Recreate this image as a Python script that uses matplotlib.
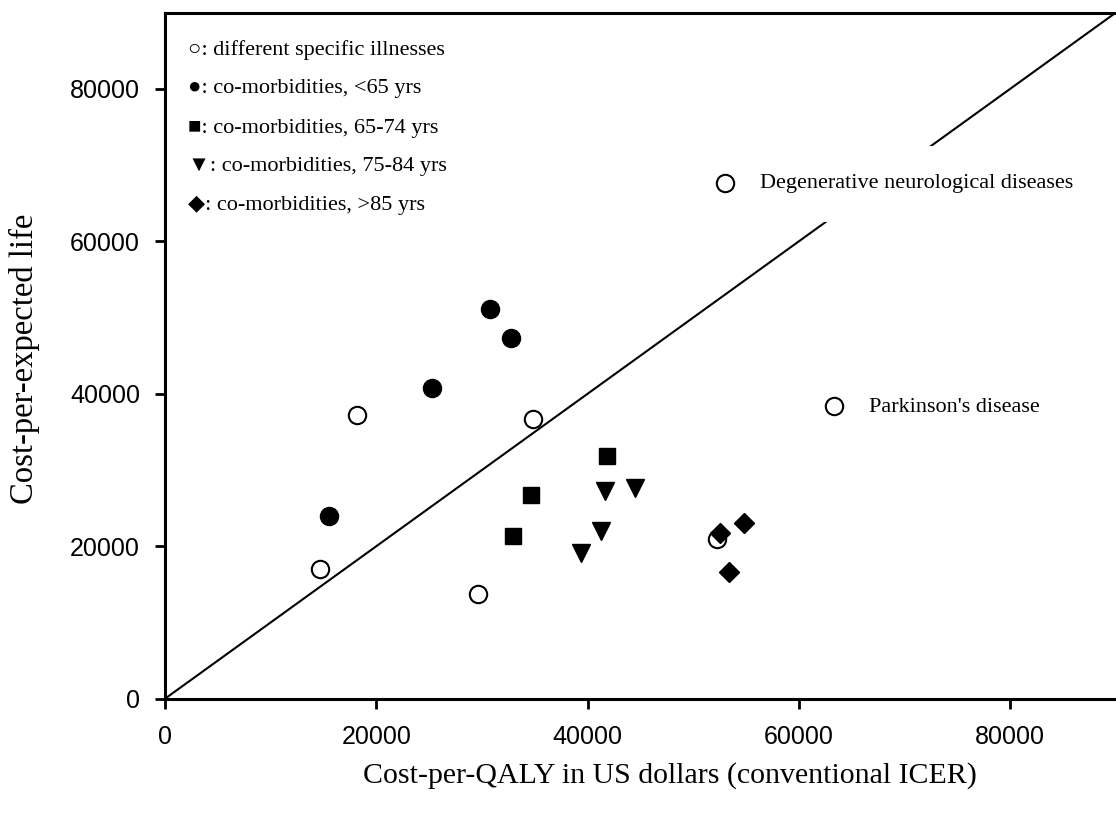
import matplotlib
matplotlib.use("Agg")
import matplotlib.pyplot as plt

# Data
open_x = [14700, 18150, 29600, 34800, 52250, 52950, 63300]
open_y = [17050, 37150, 13700, 36650, 20900, 67700, 38350]
lt65_x = [30750, 32750, 25250, 15500]
lt65_y = [51100, 47250, 40750, 24000]
a6574_x = [41850, 34600, 32900]
a6574_y = [31850, 26700, 21400]
a7584_x = [41650, 44450, 41250, 39400]
a7584_y = [27250, 27700, 22000, 19050]
gt85_x = [52550, 54800, 53350]
gt85_y = [21700, 23050, 16600]
xticks = [0, 20000, 40000, 60000, 80000]
yticks = [0, 20000, 40000, 60000, 80000]
legend_lines = ["\u25cb: different specific illnesses",
                "\u25cf: co-morbidities, <65 yrs",
                "\u25a0: co-morbidities, 65-74 yrs",
                "\u25bc: co-morbidities, 75-84 yrs",
                "\u25c6: co-morbidities, >85 yrs"]
annotations = [("Degenerative neurological diseases", 52950, 67700),
               ("Parkinson's disease", 63300, 38350)]

W, H = 1116, 814
fig = plt.figure(figsize=(W / 100, H / 100), dpi=100)
ax = fig.add_axes([165 / W, 1 - 698.7 / H, 1 - 165 / W, (698.7 - 12.5) / H])
ax.set_xlim(0, 90000)
ax.set_ylim(0, 90000)

ax.plot([0, 90000], [0, 90000], color="black", lw=1.5, zorder=1)

ax.plot(open_x, open_y, linestyle="none", marker="o", ms=12.5, mfc="white",
        mec="black", mew=1.5, zorder=4)
ax.plot(lt65_x, lt65_y, linestyle="none", marker="o", ms=13, color="black", zorder=4)
ax.plot(a6574_x, a6574_y, linestyle="none", marker="s", ms=12, color="black", zorder=4)
ax.plot(a7584_x, a7584_y, linestyle="none", marker="v", ms=13, color="black", zorder=4)
ax.plot(gt85_x, gt85_y, linestyle="none", marker="D", ms=10, color="black", zorder=5)

ax.spines["right"].set_visible(False)
for spine in ["left", "bottom", "top"]:
    ax.spines[spine].set_linewidth(2.2)

ax.set_xticks(xticks)
ax.set_yticks(yticks)
ax.set_xticklabels([str(v) for v in xticks])
ax.set_yticklabels([str(v) for v in yticks])
ax.tick_params(direction="out", length=7, width=2, labelsize=18)
ax.tick_params(axis="x", pad=12)
ax.tick_params(axis="y", pad=11)
for lab in ax.get_xticklabels() + ax.get_yticklabels():
    lab.set_fontfamily("Liberation Sans")

serif = ["Liberation Serif", "DejaVu Sans"]
leg_y = [50, 89, 128, 167, 205]
for txt, py in zip(legend_lines, leg_y):
    fig.text(188 / W, 1 - py / H, txt, family=serif, fontsize=16,
             ha="left", va="center")

for txt, x, y in annotations:
    ax.annotate(txt, (x, y), xytext=(25.5, -1), textcoords="offset points",
                family=serif, fontsize=16, ha="left", va="center", zorder=3,
                bbox=dict(facecolor="white", edgecolor="none", pad=20.5))

fig.text(670 / W, 1 - 783 / H, "Cost-per-QALY in US dollars (conventional ICER)",
         family=serif, fontsize=21.5, ha="center", va="baseline")
fig.text(24 / W, 1 - 359 / H, "Cost-per-expected life", family=serif,
         fontsize=23.5, ha="center", va="center", rotation=90)

fig.savefig("out.png", dpi=100)
